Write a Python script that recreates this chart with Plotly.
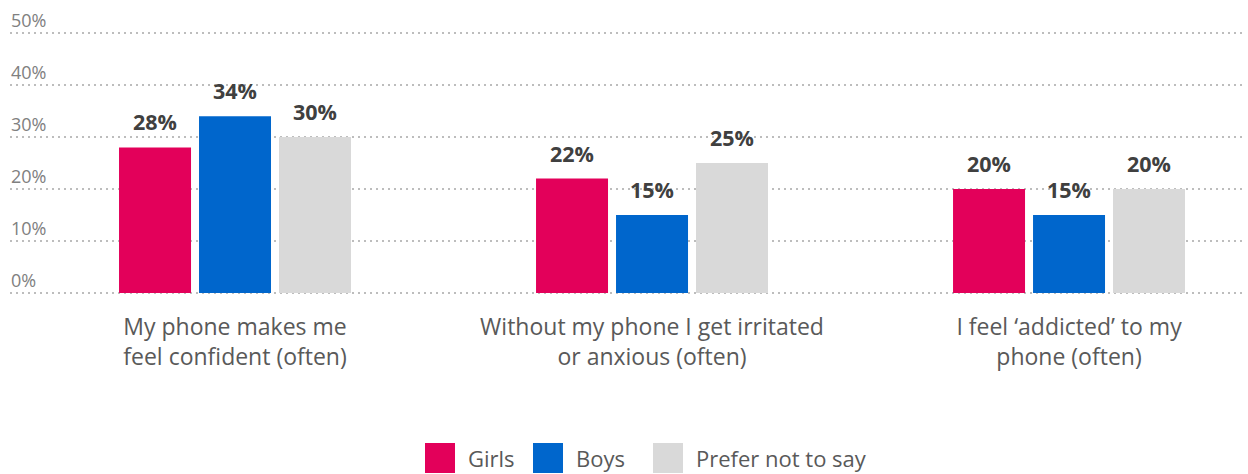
import plotly.graph_objects as go

categories = ["My phone makes me<br>feel confident (often)",
              "Without my phone I get irritated<br>or anxious (often)",
              "I feel ‘addicted’ to my<br>phone (often)"]
series_names = ["Girls", "Boys", "Prefer not to say"]
girls = [28, 22, 20]
boys = [34, 15, 15]
prefer = [30, 25, 20]
colors = ["#E3005A", "#0066CC", "#D9D9D9"]
y_ticks = [0, 10, 20, 30, 40, 50]
y_tick_labels = ["0%", "10%", "20%", "30%", "40%", "50%"]

FONT = "Open Sans, Lato, sans-serif"
W, H = 1248, 474
ML, MR, MT, MB = 10, 3, 1, 179
# y scale: value 0 at pixel 293, 5.2 px per percentage point
Y0_PX, PX_PER_UNIT = 293, 5.2
y_range = [-((H - MB) - Y0_PX) / PX_PER_UNIT, (Y0_PX - MT) / PX_PER_UNIT]
bargap = 0.4245
x = list(range(len(categories)))
all_series = [girls, boys, prefer]

fig = go.Figure()
for name, vals, col in zip(series_names, all_series, colors):
    fig.add_trace(go.Bar(x=x, y=vals, name=name, marker_color=col,
                         marker_line_width=0, showlegend=False, hoverinfo="skip"))

slot = (1 - bargap) / 3
annotations = []
for k, vals in enumerate(all_series):
    for i, v in enumerate(vals):
        annotations.append(dict(x=i + (k - 1) * slot, y=v, xref="x", yref="y",
                                text=f"<b>{v}%</b>", showarrow=False,
                                yanchor="bottom", yshift=9,
                                font=dict(family=FONT, size=21.5, color="#404040")))

# custom legend (large square keys) below the chart
pw = W - ML - MR
ph = H - MT - MB
def px_to_paper_x(px):
    return (px - ML) / pw
def px_to_paper_y(py):
    return (H - MB - py) / ph

legend_key_left = [425, 533, 653]
key_size = 30
key_top, key_bottom = 443, 473
shapes = []
for name, col, left in zip(series_names, colors, legend_key_left):
    shapes.append(dict(type="rect", xref="paper", yref="paper",
                       x0=px_to_paper_x(left), x1=px_to_paper_x(left + key_size),
                       y0=px_to_paper_y(key_bottom), y1=px_to_paper_y(key_top),
                       fillcolor=col, line=dict(width=0)))
    annotations.append(dict(x=px_to_paper_x(left + key_size + 11),
                            y=px_to_paper_y((key_top + key_bottom) / 2),
                            xref="paper", yref="paper", xanchor="left", yanchor="middle",
                            text=name, showarrow=False,
                            font=dict(family=FONT, size=22, color="#595959")))

fig.update_layout(
    width=W, height=H,
    barmode="group", bargap=bargap, bargroupgap=0.1,
    plot_bgcolor="white", paper_bgcolor="white",
    margin=dict(l=ML, r=MR, t=MT, b=MB, autoexpand=False),
    font=dict(family=FONT, color="#595959"),
    annotations=annotations, shapes=shapes,
    showlegend=False, hovermode=False,
)
fig.update_xaxes(tickvals=x, ticktext=categories, range=[-0.5396, 2.422],
                 showgrid=False, zeroline=False, showline=False,
                 tickfont=dict(size=23, color="#595959"), ticks="",
                 ticklabelstandoff=16)
fig.update_yaxes(range=y_range, tickvals=y_ticks, ticktext=y_tick_labels,
                 ticklabelposition="inside top", ticklabelstandoff=-2,
                 showgrid=True, gridcolor="#BDBDBD", griddash="2px,4px", gridwidth=2,
                 zeroline=False, showline=False,
                 tickfont=dict(size=18, color="#808080"), ticks="")
fig.write_html("out.html", config={"displayModeBar": False},
               post_script="document.body.style.margin='0';")
